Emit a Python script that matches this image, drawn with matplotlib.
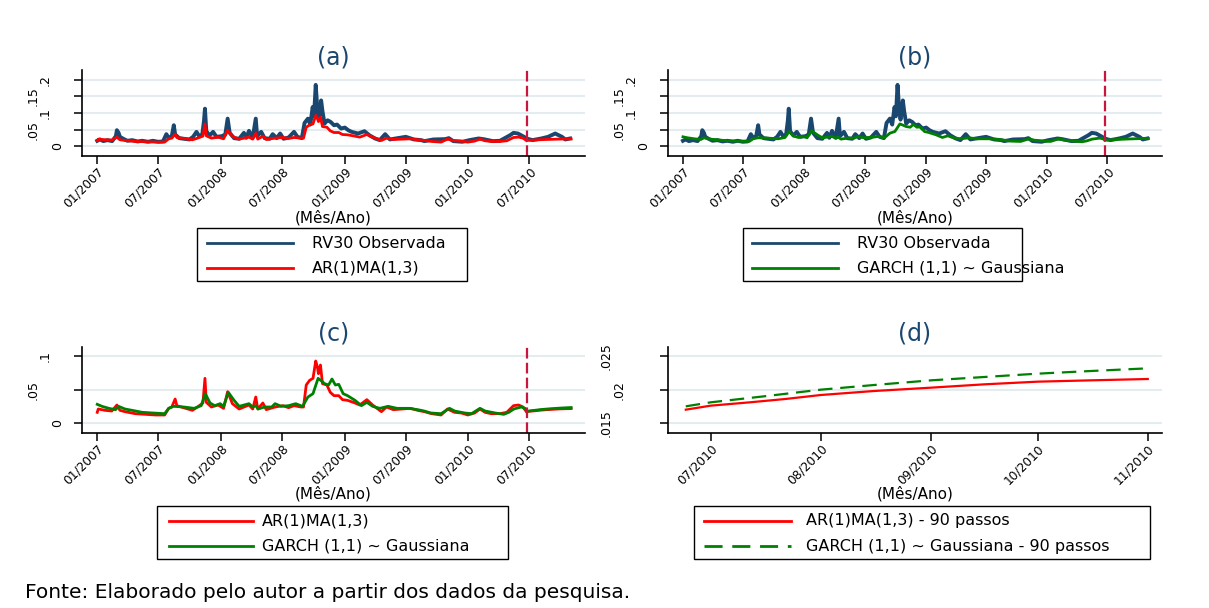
import pandas as pd
import matplotlib
matplotlib.use("Agg")
import matplotlib.pyplot as plt
import matplotlib.dates as mdates
from matplotlib.lines import Line2D
from matplotlib.patches import Rectangle
from matplotlib.transforms import blended_transform_factory

# RV30 observada
obs_datas = ["2007-01-02", "2007-01-10", "2007-01-20", "2007-02-01", "2007-02-15", "2007-02-26",
             "2007-03-01", "2007-03-06", "2007-03-10", "2007-03-20", "2007-04-01", "2007-04-15",
             "2007-05-01", "2007-05-15", "2007-06-01", "2007-06-15", "2007-07-01", "2007-07-15",
             "2007-07-25", "2007-08-01", "2007-08-10", "2007-08-16", "2007-08-20", "2007-09-01",
             "2007-09-15", "2007-10-01", "2007-10-12", "2007-10-22", "2007-10-30", "2007-11-08",
             "2007-11-13", "2007-11-16", "2007-11-20", "2007-11-30", "2007-12-10", "2007-12-20",
             "2008-01-05", "2008-01-15", "2008-01-22", "2008-01-28", "2008-02-10", "2008-02-25",
             "2008-03-10", "2008-03-17", "2008-03-25", "2008-04-05", "2008-04-14", "2008-04-18",
             "2008-04-30", "2008-05-10", "2008-05-25", "2008-06-03", "2008-06-15", "2008-06-25",
             "2008-07-05", "2008-07-20", "2008-08-05", "2008-08-15", "2008-08-28", "2008-09-05",
             "2008-09-15", "2008-09-22", "2008-09-29", "2008-10-03", "2008-10-08", "2008-10-13",
             "2008-10-17", "2008-10-24", "2008-10-28", "2008-11-03", "2008-11-12", "2008-11-21",
             "2008-12-01", "2008-12-10", "2008-12-22", "2009-01-02", "2009-01-12", "2009-01-22",
             "2009-02-10", "2009-03-01", "2009-03-15", "2009-04-01", "2009-04-15", "2009-05-01",
             "2009-05-15", "2009-06-01", "2009-07-01", "2009-07-25", "2009-08-15", "2009-08-25",
             "2009-09-20", "2009-10-25", "2009-11-05", "2009-11-18", "2009-12-15", "2010-01-05",
             "2010-02-01", "2010-02-15", "2010-03-15", "2010-04-05", "2010-05-05", "2010-05-15",
             "2010-05-28", "2010-06-15", "2010-06-22", "2010-07-10", "2010-08-05", "2010-08-25",
             "2010-09-15", "2010-10-05", "2010-10-15", "2010-10-29"]
obs_vals = [0.016, 0.020, 0.015, 0.018, 0.015, 0.030,
            0.048, 0.040, 0.028, 0.022, 0.016, 0.018,
            0.014, 0.016, 0.013, 0.016, 0.013, 0.014,
            0.036, 0.025, 0.030, 0.063, 0.035, 0.024,
            0.022, 0.020, 0.028, 0.043, 0.030, 0.035,
            0.075, 0.113, 0.045, 0.032, 0.043, 0.028,
            0.030, 0.035, 0.083, 0.040, 0.024, 0.022,
            0.040, 0.025, 0.046, 0.025, 0.083, 0.030,
            0.043, 0.024, 0.022, 0.036, 0.024, 0.038,
            0.022, 0.026, 0.043, 0.028, 0.024, 0.070,
            0.083, 0.065, 0.118, 0.090, 0.185, 0.110,
            0.080, 0.138, 0.105, 0.068, 0.078, 0.073,
            0.063, 0.065, 0.053, 0.056, 0.048, 0.043,
            0.038, 0.045, 0.033, 0.023, 0.018, 0.036,
            0.020, 0.023, 0.028, 0.020, 0.018, 0.015,
            0.020, 0.021, 0.024, 0.015, 0.013, 0.018,
            0.023, 0.021, 0.015, 0.016, 0.033, 0.040,
            0.038, 0.028, 0.023, 0.018, 0.023, 0.028,
            0.038, 0.028, 0.020, 0.023]

# AR(1)MA(1,3) ajustado
ar_datas = ["2007-01-02", "2007-01-05", "2007-01-25", "2007-02-14", "2007-03-01", "2007-03-10",
            "2007-03-25", "2007-04-24", "2007-05-24", "2007-06-24", "2007-07-20", "2007-08-01",
            "2007-08-10", "2007-08-20", "2007-08-25", "2007-09-20", "2007-10-10", "2007-10-25",
            "2007-11-10", "2007-11-16", "2007-11-20", "2007-12-05", "2007-12-25", "2008-01-10",
            "2008-01-22", "2008-02-05", "2008-02-25", "2008-03-25", "2008-04-05", "2008-04-14",
            "2008-04-20", "2008-05-05", "2008-05-15", "2008-06-10", "2008-07-03", "2008-07-20",
            "2008-08-05", "2008-08-25", "2008-09-02", "2008-09-10", "2008-09-20", "2008-09-30",
            "2008-10-08", "2008-10-13", "2008-10-16", "2008-10-22", "2008-10-28", "2008-11-10",
            "2008-11-20", "2008-12-01", "2008-12-15", "2008-12-26", "2009-01-10", "2009-02-01",
            "2009-02-15", "2009-03-08", "2009-03-25", "2009-04-20", "2009-05-05", "2009-05-25",
            "2009-06-20", "2009-07-15", "2009-08-05", "2009-08-25", "2009-09-15", "2009-10-13",
            "2009-11-01", "2009-11-22", "2009-12-12", "2009-12-31", "2010-01-20", "2010-02-05",
            "2010-02-20", "2010-03-10", "2010-04-05", "2010-04-25", "2010-05-15", "2010-05-30",
            "2010-06-12", "2010-06-22"]
ar_vals = [0.016, 0.021, 0.019, 0.018, 0.027, 0.019,
           0.017, 0.014, 0.013, 0.012, 0.012, 0.022,
           0.024, 0.036, 0.026, 0.022, 0.019, 0.024,
           0.030, 0.067, 0.031, 0.024, 0.027, 0.022,
           0.047, 0.029, 0.021, 0.027, 0.021, 0.039,
           0.021, 0.030, 0.020, 0.024, 0.026, 0.023,
           0.026, 0.024, 0.024, 0.057, 0.064, 0.067,
           0.093, 0.084, 0.074, 0.087, 0.059, 0.057,
           0.046, 0.041, 0.041, 0.035, 0.034, 0.030,
           0.027, 0.035, 0.027, 0.017, 0.024, 0.020,
           0.021, 0.022, 0.019, 0.017, 0.014, 0.012,
           0.021, 0.016, 0.015, 0.012, 0.015, 0.021,
           0.016, 0.014, 0.014, 0.016, 0.026, 0.027,
           0.024, 0.017]

# GARCH (1,1) ~ Gaussiana ajustado
garch_datas = ["2007-01-02", "2007-01-16", "2007-02-05", "2007-02-25", "2007-03-06", "2007-03-25",
               "2007-04-15", "2007-05-15", "2007-06-15", "2007-07-20", "2007-08-01", "2007-08-15",
               "2007-09-15", "2007-10-15", "2007-11-05", "2007-11-17", "2007-12-01", "2007-12-15",
               "2007-12-31", "2008-01-10", "2008-01-24", "2008-02-10", "2008-02-25", "2008-03-25",
               "2008-04-05", "2008-04-14", "2008-04-21", "2008-05-10", "2008-05-31", "2008-06-10",
               "2008-06-28", "2008-07-20", "2008-08-10", "2008-08-30", "2008-09-15", "2008-09-30",
               "2008-10-15", "2008-10-25", "2008-11-03", "2008-11-15", "2008-11-25", "2008-12-05",
               "2008-12-15", "2008-12-28", "2009-01-10", "2009-02-01", "2009-02-20", "2009-03-08",
               "2009-03-25", "2009-04-15", "2009-05-10", "2009-06-05", "2009-07-10", "2009-08-05",
               "2009-08-24", "2009-09-13", "2009-10-13", "2009-11-07", "2009-11-22", "2009-12-22",
               "2010-01-11", "2010-02-05", "2010-02-20", "2010-03-22", "2010-04-16", "2010-05-01",
               "2010-05-16", "2010-06-07", "2010-06-18", "2010-06-23"]
garch_vals = [0.028, 0.025, 0.022, 0.020, 0.025, 0.021,
              0.019, 0.016, 0.015, 0.014, 0.022, 0.025,
              0.024, 0.022, 0.026, 0.044, 0.030, 0.026,
              0.029, 0.025, 0.046, 0.034, 0.025, 0.029,
              0.024, 0.026, 0.021, 0.024, 0.024, 0.029,
              0.025, 0.026, 0.029, 0.025, 0.039, 0.044,
              0.067, 0.063, 0.059, 0.057, 0.066, 0.057,
              0.058, 0.044, 0.041, 0.034, 0.026, 0.031,
              0.025, 0.022, 0.025, 0.022, 0.022, 0.020,
              0.018, 0.015, 0.014, 0.022, 0.018, 0.015,
              0.014, 0.022, 0.018, 0.015, 0.013, 0.016,
              0.021, 0.024, 0.022, 0.018]

# previsoes fora da amostra - 90 passos
prev_ar_datas = ["2010-06-24", "2010-07-01", "2010-07-12", "2010-07-22", "2010-08-01", "2010-08-16",
                 "2010-09-01", "2010-09-16", "2010-10-01", "2010-10-16", "2010-11-01"]
prev_ar_vals = [0.0170, 0.0176, 0.0181, 0.0186, 0.0192, 0.0198,
                0.0203, 0.0208, 0.0212, 0.0214, 0.0216]
prev_garch_datas = ["2010-06-24", "2010-07-01", "2010-07-16", "2010-08-01", "2010-08-16",
                    "2010-09-01", "2010-09-16", "2010-10-01", "2010-10-16", "2010-11-01"]
prev_garch_vals = [0.0175, 0.0181, 0.0190, 0.0200, 0.0207,
                   0.0214, 0.0219, 0.0224, 0.0228, 0.0232]

corte = "2010-06-24"

AZUL = "#1a476f"
VERMELHO = "#ff0000"
VERDE = "#008000"
CORTE = "#c8163f"
GRADE = "#e4ecef"
TRACO_VERDE = (6.5, 3.5)

W, H = 1209, 608
fig = plt.figure(figsize=(W / 100, H / 100), dpi=100)


def caixa(l, t, r, b):
    return [l / W, 1 - b / H, (r - l) / W, (b - t) / H]


def fmt(v):
    s = f"{v:.3f}".rstrip("0").rstrip(".")
    if s.startswith("0."):
        s = s[1:]
    return s


def estilo(ax, titulo, yticks, ylim, xlim, xticks, w_px, h_px, label_px):
    ax.set_xlim(pd.to_datetime(xlim))
    ax.set_ylim(ylim)
    ax.set_yticks(yticks)
    ax.grid(axis="y", color=GRADE, lw=1.5)
    ax.set_axisbelow(True)
    for s in ["top", "right"]:
        ax.spines[s].set_visible(False)
    for s in ["left", "bottom"]:
        ax.spines[s].set_linewidth(1.2)
    ax.set_xticks(pd.to_datetime(xticks))
    ax.xaxis.set_major_formatter(mdates.DateFormatter("%m/%Y"))
    ax.tick_params(axis="x", labelsize=8.8, length=5.5, width=1.1, pad=1)
    ax.tick_params(axis="y", length=5.5, width=1.1, labelleft=False)
    plt.setp(ax.get_xticklabels(), rotation=45, ha="right", rotation_mode="anchor")
    # rotulos do eixo y na vertical, escalonados como no original
    trans = blended_transform_factory(ax.transAxes, ax.transData)
    for v in yticks:
        s = fmt(v)
        dx = -(24 + 12.5 * (len(s) - 1))
        ax.text(dx / w_px, v, s, transform=trans, rotation=90,
                ha="center", va="center", fontsize=9)
    ax.set_title(titulo, fontsize=17, color=AZUL, y=1 + 13 / h_px, pad=0, va="center")
    ax.set_xlabel("(Mês/Ano)", fontsize=11)
    ax.xaxis.label.set_va("center")
    ax.xaxis.set_label_coords(0.5, -label_px / h_px)


def legenda(l, t, r, b, itens, x0, x1, xt):
    fig.add_artist(Rectangle((l / W, 1 - b / H), (r - l) / W, (b - t) / H,
                             transform=fig.transFigure, fill=False, edgecolor="black", lw=1))
    for i, (linha, texto, tracos) in enumerate(itens):
        y = 1 - (t + 15 + 25 * i) / H
        amostra = Line2D([x0 / W, x1 / W], [y, y], color=linha.get_color(), lw=2,
                         transform=fig.transFigure)
        if tracos:
            amostra.set_dashes(tracos)
        fig.add_artist(amostra)
        fig.text(xt / W, y, texto, ha="left", va="center", fontsize=11.5)


obs_x = pd.to_datetime(obs_datas)
ar_x = pd.to_datetime(ar_datas)
garch_x = pd.to_datetime(garch_datas)
par_x = pd.to_datetime(prev_ar_datas)
pga_x = pd.to_datetime(prev_garch_datas)

xlim_hist = ["2006-11-18", "2010-12-12"]
xt_hist = ["2007-01-01", "2007-07-01", "2008-01-01", "2008-07-01",
           "2009-01-01", "2009-07-01", "2010-01-01", "2010-07-01"]

# (a)
ax_a = fig.add_axes(caixa(82, 70, 585, 156))
l_obs_a, = ax_a.plot(obs_x, obs_vals, color=AZUL, lw=2.8)
l_ar_a, = ax_a.plot(ar_x, ar_vals, color=VERMELHO, lw=2.0)
ax_a.plot(par_x, prev_ar_vals, color=VERMELHO, lw=2.0)
ax_a.axvline(pd.Timestamp(corte), color=CORTE, lw=1.6, dashes=(4.8, 1.9))
estilo(ax_a, "(a)", [0, 0.05, 0.1, 0.15, 0.2], (-0.03, 0.23), xlim_hist, xt_hist, 503, 86, 62)

# (b)
ax_b = fig.add_axes(caixa(668, 70, 1162, 156))
l_obs_b, = ax_b.plot(obs_x, obs_vals, color=AZUL, lw=2.8)
l_ga_b, = ax_b.plot(garch_x, garch_vals, color=VERDE, lw=2.0)
ax_b.plot(pga_x, prev_garch_vals, color=VERDE, lw=2.0)
ax_b.axvline(pd.Timestamp(corte), color=CORTE, lw=1.6, dashes=(4.8, 1.9))
estilo(ax_b, "(b)", [0, 0.05, 0.1, 0.15, 0.2], (-0.03, 0.23), xlim_hist, xt_hist, 494, 86, 62)

# (c)
ax_c = fig.add_axes(caixa(82, 347, 585, 433))
l_ar_c, = ax_c.plot(ar_x, ar_vals, color=VERMELHO, lw=2.0)
ax_c.plot(par_x, prev_ar_vals, color=VERMELHO, lw=2.0)
l_ga_c, = ax_c.plot(garch_x, garch_vals, color=VERDE, lw=2.0)
ax_c.plot(pga_x, prev_garch_vals, color=VERDE, lw=2.0)
ax_c.axvline(pd.Timestamp(corte), color=CORTE, lw=1.6, dashes=(4.8, 1.9))
estilo(ax_c, "(c)", [0, 0.05, 0.1], (-0.015, 0.114), xlim_hist, xt_hist, 503, 86, 61)

# (d)
ax_d = fig.add_axes(caixa(668, 347, 1162, 433))
l_ar_d, = ax_d.plot(par_x, prev_ar_vals, color=VERMELHO, lw=1.6)
l_ga_d, = ax_d.plot(pga_x, prev_garch_vals, color=VERDE, lw=1.6, dashes=TRACO_VERDE)
estilo(ax_d, "(d)", [0.015, 0.02, 0.025], (0.0135, 0.0264), ["2010-06-19", "2010-11-05"],
       ["2010-07-01", "2010-08-01", "2010-09-01", "2010-10-01", "2010-11-01"], 494, 86, 61)

# legendas
legenda(197, 228, 467, 281, [(l_obs_a, "RV30 Observada", None),
                             (l_ar_a, "AR(1)MA(1,3)", None)], 207, 293, 312)
legenda(743, 228, 1022, 281, [(l_obs_b, "RV30 Observada", None),
                              (l_ga_b, "GARCH (1,1) ~ Gaussiana", None)], 752, 838, 857)
legenda(157, 506, 508, 559, [(l_ar_c, "AR(1)MA(1,3)", None),
                             (l_ga_c, "GARCH (1,1) ~ Gaussiana", None)], 169, 253, 262)
legenda(694, 506, 1150, 559, [(l_ar_d, "AR(1)MA(1,3) - 90 passos", None),
                              (l_ga_d, "GARCH (1,1) ~ Gaussiana - 90 passos", TRACO_VERDE)],
        704, 791, 806)

fig.text(25 / W, 1 - 592 / H, "Fonte: Elaborado pelo autor a partir dos dados da pesquisa.",
         ha="left", va="center", fontsize=14.5)

fig.savefig("out.png", dpi=100, facecolor="white")
